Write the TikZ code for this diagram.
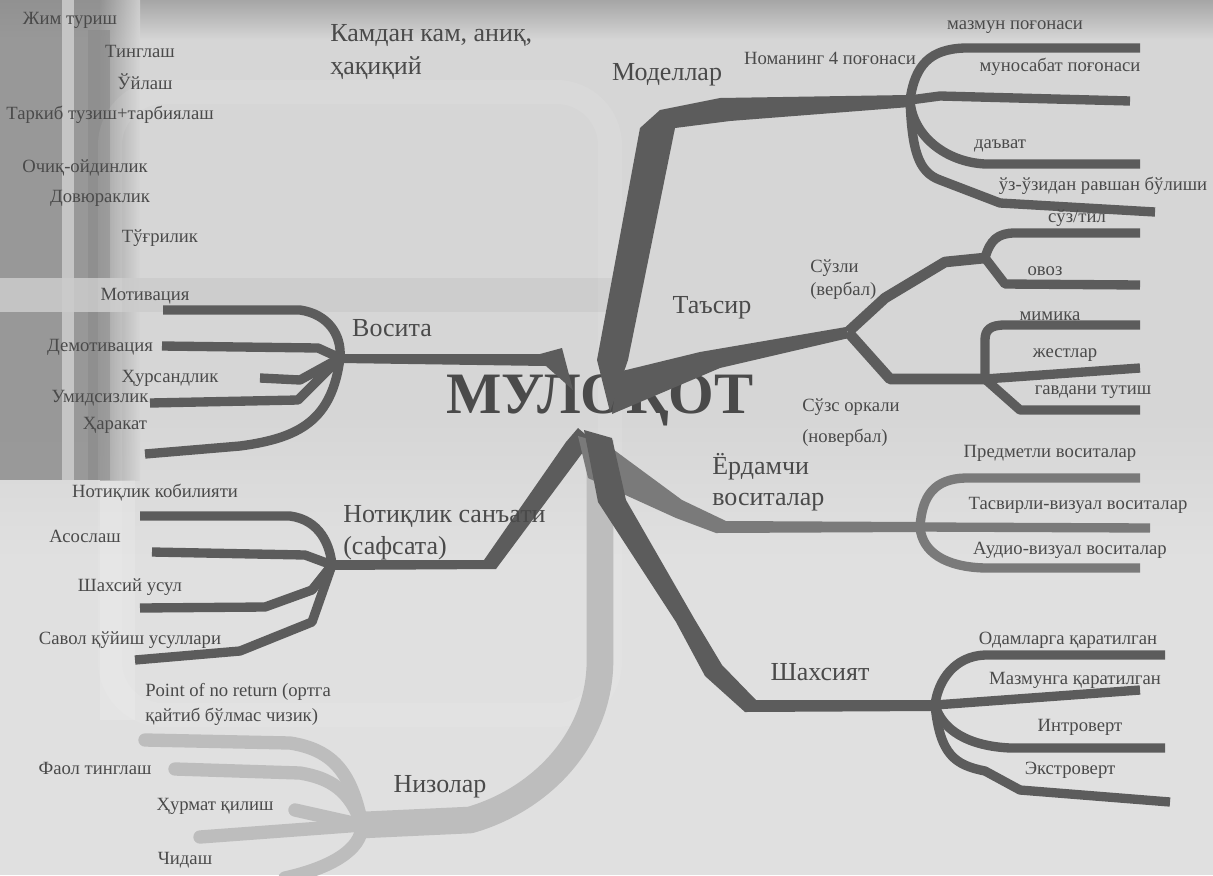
\documentclass[tikz,border=0pt]{standalone}
\usepackage{fontspec}
\setmainfont{Liberation Serif}
\definecolor{bgbase}{HTML}{D6D6D6}
\definecolor{bglow}{HTML}{E0E0E0}
\definecolor{bgdark}{HTML}{8E8E8E}
\definecolor{brdark}{HTML}{5C5C5C}
\definecolor{brmid}{HTML}{7A7A7A}
\definecolor{brlight}{HTML}{BDBDBD}
\definecolor{txt}{HTML}{4A4A4A}
\tikzset{
  br/.style={draw=brdark, line width=7pt, line cap=butt, line join=round},
  brmidline/.style={draw=brmid, line width=7pt, line cap=butt, line join=round},
  brlt/.style={draw=brlight, line width=10pt, line cap=round, line join=round},
  lab/.style={text=txt, font=\fontsize{14}{16}\selectfont, inner sep=0pt},
  biglab/.style={text=txt, font=\fontsize{19.5}{22}\selectfont, inner sep=0pt},
}
\begin{document}
\begin{tikzpicture}[x=0.75pt,y=-0.75pt]
\useasboundingbox (0,0) rectangle (1213,875);
% ---------- background ----------
\fill[bgbase] (0,0) rectangle (1213,875);
\fill[bglow] (0,560) rectangle (1213,875);
\shade[top color=bgbase, bottom color=bglow] (0,420) rectangle (1213,560);
\shade[top color=black!35, bottom color=bgbase] (0,0) rectangle (1213,40);
\fill[bgdark, opacity=0.85] (0,0) rectangle (100,480);
\shade[left color=bgdark, right color=bgbase, opacity=0.8] (100,0) rectangle (140,480);
\fill[black!18, opacity=0.8] (62,0) rectangle (74,480);
\fill[black!45, opacity=0.7] (88,30) rectangle (110,480);
\fill[black!20, opacity=0.85] (0,278) rectangle (620,312);
\fill[white, opacity=0.15] (100,480) rectangle (135,720);
\draw[white, opacity=0.08, line width=18pt, rounded corners=40pt]
  (110,92) -- (610,92) -- (610,715) -- (110,715) -- cycle;

% ---------- title (under branches) ----------
\node[text=txt, font=\fontsize{44}{48}\bfseries\selectfont, inner sep=0pt] (title) at (600,400) {МУЛОҚОТ};

% ---------- coordinates ----------
\coordinate (center) at (598,420);
\coordinate (mHub) at (910,100);
\coordinate (tHub) at (848,332);
\coordinate (tUp) at (985,258);
\coordinate (tDn) at (985,379);
\coordinate (vHub) at (340,358);
\coordinate (nHub) at (332,565);
\coordinate (yHub) at (920,527);
\coordinate (pHub) at (935,705);
\coordinate (zHub) at (362,825);

% ---------- Nizolar (light, behind) ----------
\draw[brlt, line width=20pt, line cap=butt] (600,440) -- (600,660) .. controls (600,740) and (540,800) .. (470,820) -- (zHub);
\draw[brlt] (145,740) -- (290,743) .. controls (335,750) and (352,775) .. (zHub);
\draw[brlt] (175,769) -- (300,773) .. controls (330,778) and (350,790) .. (zHub);
\draw[brlt] (295,810) -- (zHub);
\draw[brlt] (200,837) -- (zHub);
\draw[brlt] (zHub) .. controls (362,850) and (330,868) .. (285,878);

% ---------- Modellar ----------
\fill[brdark] (610,412) -- (597,360) -- (640,128) -- (660,110) -- (720,98) -- (908,95) -- (910,107) -- (730,121) -- (675,128) -- (628,360) -- cycle;
\draw[br] (mHub) .. controls (915,65) and (930,49) .. (965,48) -- (1140,48);
\draw[br] (mHub) -- (940,96) -- (1130,101);
\draw[br] (mHub) .. controls (912,135) and (945,162) .. (985,164) -- (1140,164);
\draw[br] (mHub) .. controls (912,150) and (918,172) .. (940,180) -- (1000,203) -- (1155,212);

% ---------- Tasir ----------
\fill[brdark] (612,414) -- (618,372) -- (700,352) -- (846,327) -- (849,338) -- (720,368) -- cycle;
\draw[br, line width=8pt] (tHub) -- (885,298) -- (945,262) -- (tUp);
\draw[br] (tUp) .. controls (990,240) and (998,233) .. (1015,233) -- (1140,233);
\draw[br] (tUp) -- (1005,284) -- (1140,285);
\draw[br, line width=8pt] (tHub) -- (890,379) -- (tDn);
\draw[br] (tDn) -- (985,340) .. controls (985,330) and (990,325) .. (1005,325) -- (1140,325);
\draw[br] (tDn) -- (1140,368);
\draw[br] (tDn) -- (1020,410) -- (1140,410);

% ---------- Vosita ----------
\fill[brdark] (vHub) ++(0,-4) -- (540,354) -- (562,348) -- (573,390) -- (546,366) -- (340,363) -- cycle;
\draw[br] (163,310) -- (300,310) .. controls (328,314) and (342,335) .. (vHub);
\draw[br] (162,346) -- (318,348) -- (vHub);
\draw[br] (260,378) -- (300,380) -- (vHub);
\draw[br] (150,403) -- (298,400) -- (vHub);
\draw[br] (145,454) -- (240,446) .. controls (300,438) and (332,420) .. (vHub);

% ---------- Notiqlik ----------
\fill[brdark] (nHub) ++(0,-5) -- (484,560) -- (566,442) -- (578,428) -- (592,440) -- (496,569) -- (332,570) -- cycle;
\draw[br] (140,516) -- (290,516) .. controls (320,520) and (330,545) .. (nHub);
\draw[br] (152,552) -- (305,555) -- (nHub);
\draw[br] (140,608) -- (265,607) -- (312,590) -- (nHub);
\draw[br] (135,660) -- (240,651) -- (312,622) -- (nHub);

% ---------- Yordamchi ----------
\fill[brmid] (578,436) -- (606,444) -- (682,500) -- (726,521) -- (922,522) -- (922,532) -- (716,533) -- (676,518) -- (588,478) -- cycle;
\draw[brmidline] (yHub) .. controls (922,495) and (935,479) .. (965,478) -- (1140,478);
\draw[brmidline] (yHub) -- (1150,528);
\draw[brmidline] (yHub) .. controls (922,552) and (945,567) .. (985,568) -- (1140,568);

% ---------- Shaxsiyat ----------
\fill[brdark] (584,430) -- (612,438) -- (626,500) -- (695,620) -- (722,665) -- (756,700) -- (935,700) -- (935,711) -- (745,712) -- (705,676) -- (676,622) -- (598,502) -- cycle;
\draw[br] (pHub) .. controls (938,680) and (955,656) .. (985,655) -- (1165,655);
\draw[br] (pHub) -- (1140,690);
\draw[br] (pHub) .. controls (942,730) and (968,746) .. (1010,748) -- (1165,748);
\draw[br] (pHub) .. controls (940,755) and (955,765) .. (985,771) -- (1020,790) -- (1170,802);

% ---------- labels: top-left ----------
\node[lab] (l1) at (70,20) {Жим туриш};
\node[lab] (l2) at (140,51) {Тинглаш};
\node[lab] (l3) at (145,82) {Ўйлаш};
\node[lab] (l4) at (110,115) {Таркиб тузиш+тарбиялаш};
\node[lab] (l5) at (85,168) {Очиқ-ойдинлик};
\node[lab] (l6) at (100,198) {Довюраклик};
\node[lab] (l7) at (160,238) {Тўғрилик};
\node[biglab, anchor=west] (k1) at (330,35) {Камдан кам, аниқ,};
\node[biglab, anchor=west] (k2) at (330,68) {ҳақиқий};

% Modellar labels
\node[biglab] (modellar) at (667,75) {Моделлар};
\node[lab] (noma) at (830,58) {Номанинг 4 поғонаси};
\node[lab] (m1) at (1015,27) {мазмун поғонаси};
\node[lab] (m2) at (1060,67) {муносабат поғонаси};
\node[lab] (m3) at (1000,146) {даъват};
\node[lab] (m4) at (1103,186) {ўз-ўзидан равшан бўлиши};

% Tasir labels
\node[biglab] (tasir) at (712,308) {Таъсир};
\node[lab, anchor=west] (verb1) at (810,268) {Сўзли};
\node[lab, anchor=west] (verb2) at (810,291) {(вербал)};
\node[lab] (t1) at (1077,218) {сўз/тил};
\node[lab] (t2) at (1045,271) {овоз};
\node[lab] (t3) at (1050,316) {мимика};
\node[lab] (t4) at (1065,355) {жестлар};
\node[lab] (t5) at (1093,392) {гавдани тутиш};
\node[lab, anchor=west] (nv1) at (802,407) {Сўзс оркали};
\node[lab, anchor=west] (nv2) at (802,438) {(новербал)};

% Yordamchi labels
\node[biglab, anchor=west] (y0a) at (712,467) {Ёрдамчи};
\node[biglab, anchor=west] (y0b) at (712,502) {воситалар};
\node[lab] (y1) at (1050,453) {Предметли воситалар};
\node[lab] (y2) at (1078,505) {Тасвирли-визуал воситалар};
\node[lab] (y3) at (1070,550) {Аудио-визуал воситалар};

% Shaxsiyat labels
\node[biglab] (shax) at (820,672) {Шахсият};
\node[lab] (p1) at (1068,640) {Одамларга қаратилган};
\node[lab] (p2) at (1075,680) {Мазмунга қаратилган};
\node[lab] (p3) at (1080,727) {Интроверт};
\node[lab] (p4) at (1070,770) {Экстроверт};

% Vosita labels
\node[biglab] (vosita) at (392,328) {Восита};
\node[lab] (v1) at (145,296) {Мотивация};
\node[lab] (v2) at (100,347) {Демотивация};
\node[lab] (v3) at (170,378) {Ҳурсандлик};
\node[lab] (v4) at (100,398) {Умидсизлик};
\node[lab] (v5) at (115,425) {Ҳаракат};

% Notiqlik labels
\node[biglab, anchor=west] (nsa) at (343,516) {Нотиқлик санъати};
\node[biglab, anchor=west] (nsb) at (343,548) {(сафсата)};
\node[lab] (n1) at (155,493) {Нотиқлик кобилияти};
\node[lab] (n2) at (85,536) {Асослаш};
\node[lab] (n3) at (130,587) {Шахсий усул};
\node[lab] (n4) at (130,640) {Савол қўйиш усуллари};

% Nizolar labels
\node[biglab] (niz) at (440,787) {Низолар};
\node[lab, anchor=west] (z1a) at (145,692) {Point of no return (ортга};
\node[lab, anchor=west] (z1b) at (145,717) {қайтиб бўлмас чизик)};
\node[lab] (z2) at (95,768) {Фаол тинглаш};
\node[lab] (z3) at (215,806) {Ҳурмат қилиш};
\node[lab] (z4) at (185,860) {Чидаш};
\end{tikzpicture}
\end{document}
